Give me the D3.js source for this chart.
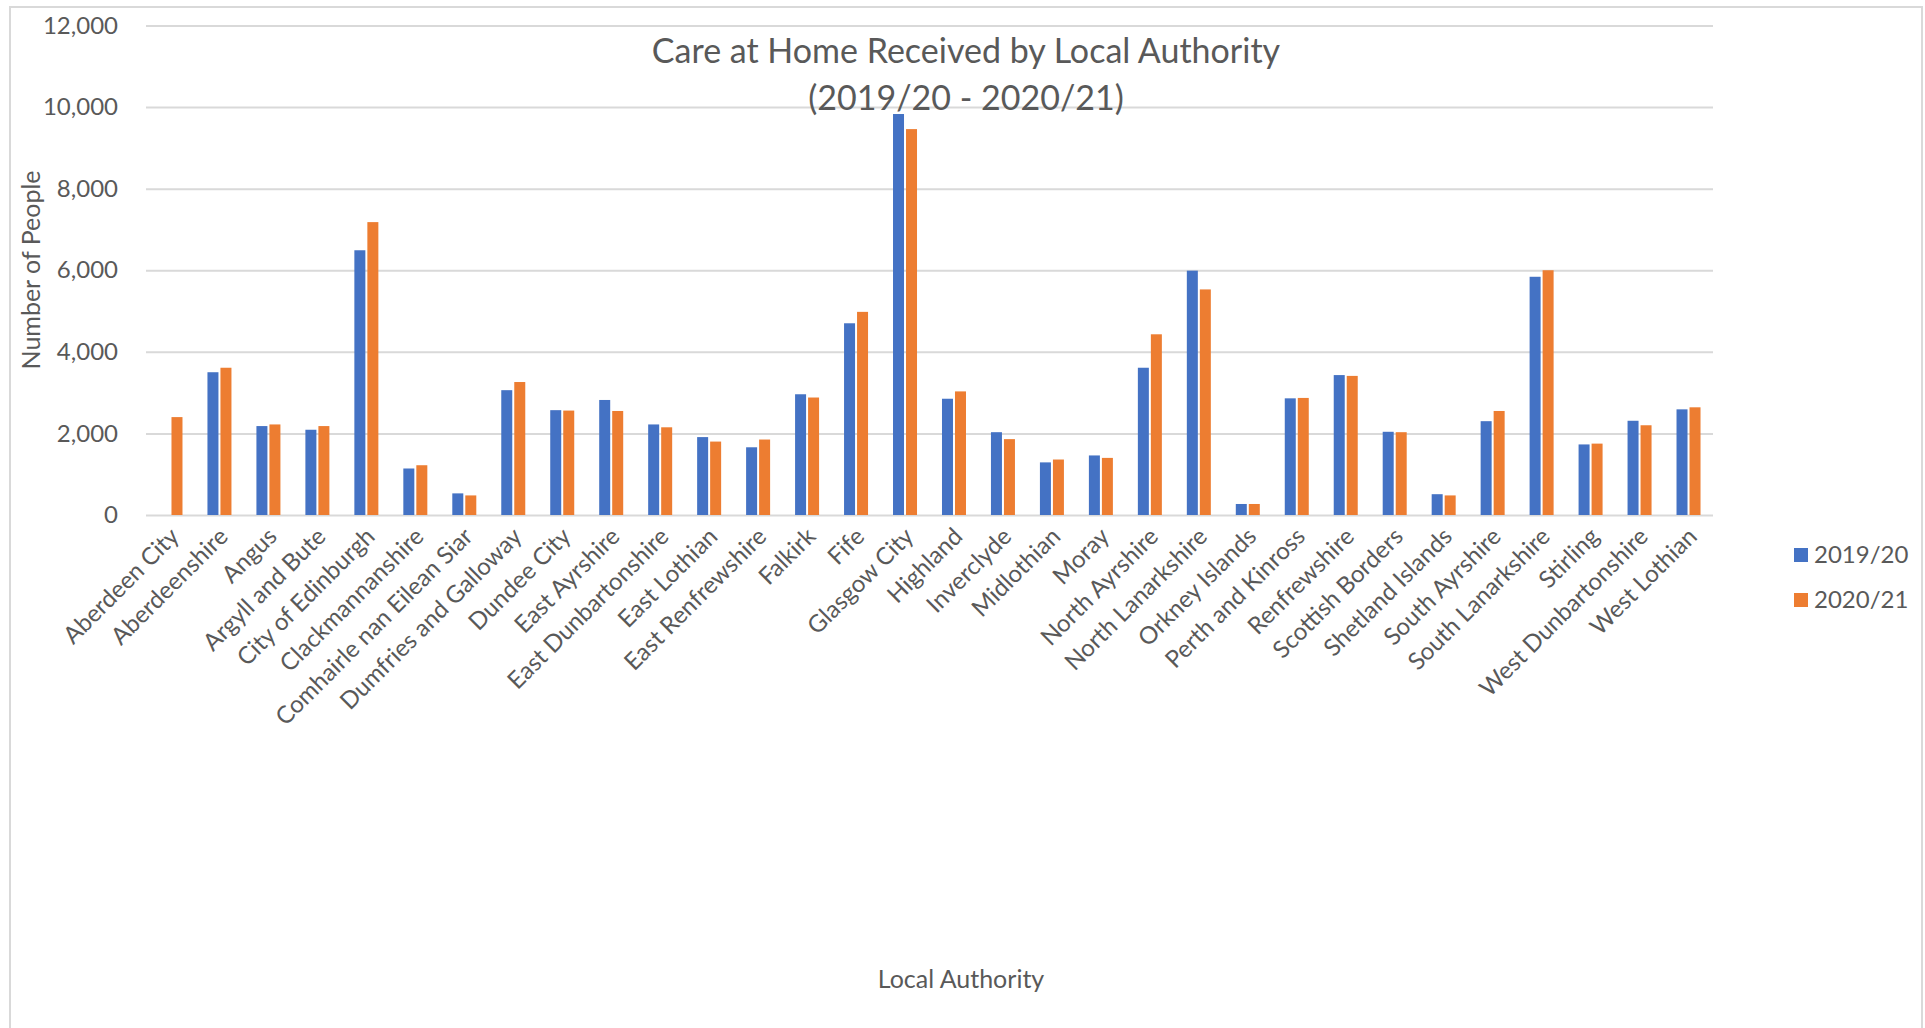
<!DOCTYPE html>
<html>
<head>
<meta charset="utf-8">
<script src="https://cdn.jsdelivr.net/npm/d3@7"></script>
<style>
  body { margin: 0; background: #fff; }
  svg { display: block; font-family: Lato, "Open Sans", sans-serif; }
</style>
</head>
<body>
<svg id="chart" width="1925" height="1028"></svg>
<script>
// categories and values
let authorities = ["Aberdeen City", "Aberdeenshire", "Angus", "Argyll and Bute", "City of Edinburgh",
  "Clackmannanshire", "Comhairle nan Eilean Siar", "Dumfries and Galloway", "Dundee City", "East Ayrshire",
  "East Dunbartonshire", "East Lothian", "East Renfrewshire", "Falkirk", "Fife", "Glasgow City", "Highland",
  "Inverclyde", "Midlothian", "Moray", "North Ayrshire", "North Lanarkshire", "Orkney Islands",
  "Perth and Kinross", "Renfrewshire", "Scottish Borders", "Shetland Islands", "South Ayrshire",
  "South Lanarkshire", "Stirling", "West Dunbartonshire", "West Lothian"]

let y2019 = [null, 3500, 2180, 2090, 6490, 1140, 530, 3060, 2570, 2820,
  2220, 1910, 1660, 2960, 4700, 9830, 2850,
  2030, 1290, 1460, 3610, 5990, 270,
  2860, 3430, 2040, 510, 2300,
  5840, 1730, 2310, 2590]

let y2020 = [2400, 3610, 2220, 2180, 7180, 1220, 480, 3260, 2560, 2550,
  2150, 1800, 1850, 2880, 4980, 9460, 3030,
  1860, 1360, 1400, 4430, 5530, 270,
  2870, 3410, 2030, 480, 2550,
  6000, 1750, 2200, 2640]

let seriesNames = ["2019/20", "2020/21"]
let seriesColors = ["#4472C4", "#ED7D31"]
let yTicks = [0, 2000, 4000, 6000, 8000, 10000, 12000]

var svg = d3.select("#chart")
var textColor = "#595959"

// outer chart border
svg.append("rect")
    .attr("x", 10).attr("y", 7)
    .attr("width", 1912).attr("height", 1040)
    .attr("fill", "none")
    .attr("stroke", "#d9d9d9")
    .attr("stroke-width", 2)

var plotLeft = 146, plotRight = 1713, plotTop = 25.5, plotBottom = 515

var x = d3.scaleBand().domain(authorities).range([plotLeft, plotRight])
var y = d3.scaleLinear().domain([0, 12000]).range([plotBottom, plotTop])

// gridlines + y labels
var yAxis = svg.append("g")
    .attr("transform", "translate(" + plotLeft + ",0)")
    .call(d3.axisLeft(y).tickValues(yTicks).tickFormat(d3.format(",")).tickSize(-(plotRight - plotLeft)).tickPadding(28))
yAxis.select(".domain").remove()
yAxis.selectAll(".tick line").attr("stroke", "#d9d9d9").attr("stroke-width", 2)
yAxis.selectAll(".tick text")
    .attr("fill", textColor)
    .attr("font-size", "24px")
    .attr("font-family", "Lato")

var barW = 11

var rows = authorities.map(function (a, i) { return { name: a, v: [y2019[i], y2020[i]] } })

var groups = svg.selectAll(".cat")
    .data(rows)
    .enter().append("g")
    .attr("class", "cat")
    .attr("transform", function (d) { return "translate(" + (x(d.name) + x.bandwidth() / 2) + ",0)" })

groups.selectAll("rect")
    .data(function (d) { return d.v.map(function (v, s) { return { v: v, s: s } }).filter(function (e) { return e.v != null }) })
    .enter().append("rect")
    .attr("x", function (e) { return e.s === 0 ? -barW - 1 : 1 })
    .attr("y", function (e) { return y(e.v) })
    .attr("width", barW)
    .attr("height", function (e) { return plotBottom - y(e.v) })
    .attr("fill", function (e) { return seriesColors[e.s] })

// category labels, rotated
groups.append("text")
    .attr("transform", "translate(4,532) rotate(-45)")
    .attr("text-anchor", "end")
    .attr("dy", "0.35em")
    .attr("fill", textColor)
    .attr("font-size", "24px")
    .text(function (d) { return d.name })

// title
var title = svg.append("text")
    .attr("x", 966).attr("y", 63)
    .attr("text-anchor", "middle")
    .attr("fill", textColor)
    .attr("font-size", "34px")
title.append("tspan").attr("x", 966).text("Care at Home Received by Local Authority")
title.append("tspan").attr("x", 966).attr("y", 110).text("(2019/20 - 2020/21)")

// axis titles
svg.append("text")
    .attr("transform", "translate(40,270) rotate(-90)")
    .attr("text-anchor", "middle")
    .attr("fill", textColor)
    .attr("font-size", "25px")
    .text("Number of People")

svg.append("text")
    .attr("x", 961).attr("y", 988)
    .attr("text-anchor", "middle")
    .attr("fill", textColor)
    .attr("font-size", "25px")
    .text("Local Authority")

// legend
var legend = svg.selectAll(".leg")
    .data(seriesNames)
    .enter().append("g")
    .attr("class", "leg")
    .attr("transform", function (d, i) { return "translate(1794," + (548 + i * 45) + ")" })
legend.append("rect")
    .attr("width", 14).attr("height", 14)
    .attr("fill", function (d, i) { return seriesColors[i] })
legend.append("text")
    .attr("x", 20).attr("y", 7).attr("dy", "0.35em")
    .attr("fill", textColor)
    .attr("font-size", "24px")
    .text(function (d) { return d })
</script>
</body>
</html>
